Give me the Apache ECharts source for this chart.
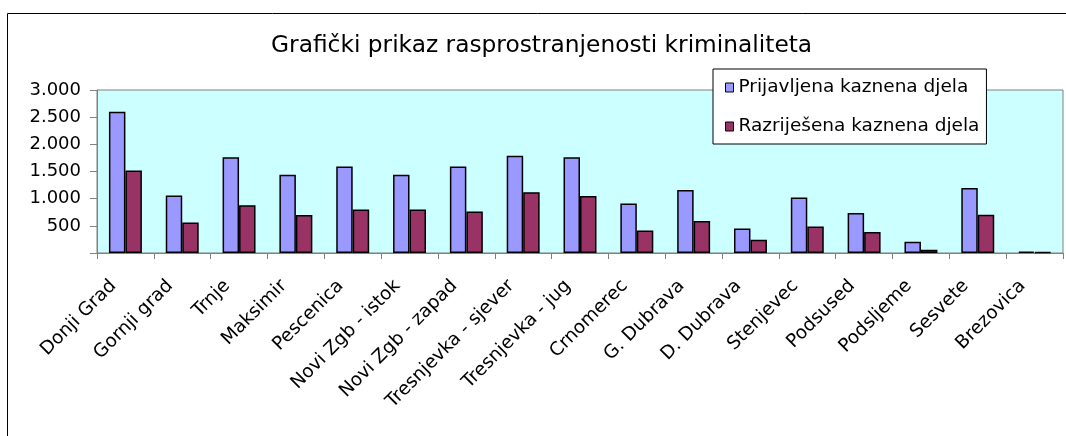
<!DOCTYPE html>
<html>
<head>
<meta charset="utf-8">
<script src="https://cdn.jsdelivr.net/npm/echarts@6/dist/echarts.min.js"></script>
<style>
  html, body { margin: 0; padding: 0; background: #fff; }
  #chart { width: 1066px; height: 436px; }
</style>
</head>
<body>
<div id="chart"></div>
<script>
// podaci po gradskim četvrtima
const categories = [
  'Donji Grad', 'Gornji grad', 'Trnje', 'Maksimir', 'Pescenica',
  'Novi Zgb - istok', 'Novi Zgb - zapad', 'Tresnjevka - sjever', 'Tresnjevka - jug',
  'Crnomerec', 'G. Dubrava', 'D. Dubrava', 'Stenjevec', 'Podsused',
  'Podsljeme', 'Sesvete', 'Brezovica'
];
const prijavljena = [2600, 1060, 1760, 1440, 1590, 1440, 1590, 1790, 1760, 910, 1160, 450, 1020, 735, 205, 1195, 25];
const razrijesena = [1520, 560, 880, 700, 800, 800, 765, 1120, 1050, 415, 590, 245, 490, 385, 60, 705, 15];
const yTicks = [0, 500, 1000, 1500, 2000, 2500, 3000];

const FONT = "'DejaVu Sans', 'Liberation Sans', Arial, sans-serif";

let myChart = echarts.init(document.getElementById('chart'));

let option = {
  backgroundColor: '#fff',
  animation: false,
  title: {
    text: 'Grafički prikaz rasprostranjenosti kriminaliteta',
    left: 271,
    top: 34,
    padding: 0,
    textStyle: {
      fontFamily: FONT,
      fontSize: 23.3,
      fontWeight: 'normal',
      color: '#000',
    },
  },
  graphic: [
    {
      // okvir grafikona (samo gornji i lijevi rub vidljiv)
      type: 'rect',
      shape: { x: 7.5, y: 13.5, width: 1200, height: 600 },
      style: { fill: 'none', stroke: '#000', lineWidth: 1 },
      z: 100,
    },
  ],
  legend: {
    orient: 'vertical',
    left: 713,
    top: 69,
    padding: [9, 7, 8, 12],
    itemGap: 20,
    itemWidth: 8,
    itemHeight: 9,
    icon: 'rect',
    backgroundColor: '#fff',
    borderColor: '#000',
    borderWidth: 1,
    itemStyle: { borderColor: '#000', borderWidth: 1 },
    textStyle: {
      fontFamily: FONT,
      fontSize: 18.5,
      color: '#000',
    },
    z: 10,
  },
  grid: {
    left: 97,
    top: 90,
    right: 3,
    bottom: 183,
    show: true,
    backgroundColor: '#CCFFFF',
    borderColor: '#808080',
    borderWidth: 1,
  },
  xAxis: {
    type: 'category',
    data: categories,
    axisLine: { lineStyle: { color: '#808080', width: 1 } },
    axisTick: { show: true, length: 6, lineStyle: { color: '#808080' } },
    axisLabel: {
      interval: 0,
      rotate: 45,
      margin: 18,
      padding: [0, 17, 0, 0],
      fontFamily: FONT,
      fontSize: 18.5,
      color: '#000',
    },
  },
  yAxis: {
    type: 'value',
    min: yTicks[0],
    max: yTicks[yTicks.length - 1],
    interval: 500,
    splitLine: { show: false },
    axisLine: { show: true, lineStyle: { color: '#808080', width: 1 } },
    axisTick: { show: true, length: 7, lineStyle: { color: '#808080' } },
    axisLabel: {
      margin: 16,
      fontFamily: FONT,
      fontSize: 18,
      color: '#000',
      formatter: function (v) {
        if (v === 0) return '';
        // format s točkom za tisućice
        return String(v).replace(/\B(?=(\d{3})+(?!\d))/g, '.');
      },
    },
  },
  series: [
    {
      name: 'Prijavljena kaznena djela',
      type: 'bar',
      data: prijavljena,
      barGap: '0%',
      barCategoryGap: '42%',
      itemStyle: { color: '#9999FF', borderColor: '#000', borderWidth: 1.5 },
    },
    {
      name: 'Razriješena kaznena djela',
      type: 'bar',
      data: razrijesena,
      itemStyle: { color: '#993366', borderColor: '#000', borderWidth: 1.5 },
    },
  ],
};

myChart.setOption(option, true);
window.addEventListener('resize', () => {
  myChart.resize();
});
</script>
</body>
</html>
